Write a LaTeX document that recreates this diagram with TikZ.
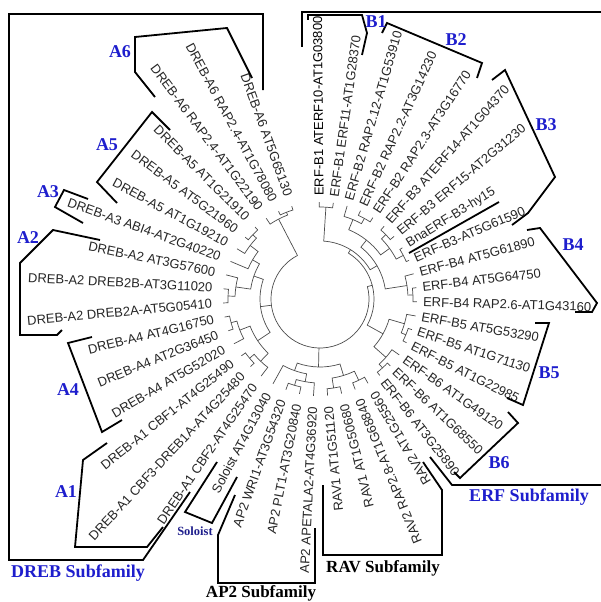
\documentclass[tikz,border=0pt]{standalone}
\usepackage{fontspec}
\setmainfont{Liberation Serif}
\newfontfamily\arialf{Liberation Sans}
\definecolor{grpblue}{RGB}{30,30,205}
\definecolor{solblue}{RGB}{30,30,140}
\newcommand\nd[5]{%
  \draw[tree] ({ang(#2)}:#3) -- ({ang(#2)}:#1) arc[start angle={ang(#2)}, end angle={ang(#4)}, radius=#1pt] -- ({ang(#4)}:#5);}
\newcommand\labR[3]{\node[lbl,anchor=west,rotate={ang(#2)}] (#1) at ({ang(#2)}:103) {#3};}
\newcommand\labB[3]{\node[lbl,anchor=east,rotate={ang(#2)+181}] (#1) at ({ang(#2)}:108) {#3};}
\newcommand\labL[3]{\node[lbl,anchor=east,rotate={ang(#2)+183}] (#1) at ({ang(#2)}:108) {#3};}
\begin{document}
\begin{tikzpicture}[x=1pt,y=-1pt,
  declare function={ang(\u)=90.5-8.38*(\u-1);},
  lbl/.style={font=\arialf\fontsize{13}{15}\selectfont, inner sep=0pt, text=black!85},
  tree/.style={line width=0.7pt, draw=black!70},
  bkt/.style={line width=1.8pt, draw=black, line join=miter},
  grp/.style={font=\bfseries\fontsize{18}{20}\selectfont, text=grpblue, inner sep=0pt},
  fam/.style={font=\bfseries\fontsize{17}{19}\selectfont, text=black, inner sep=0pt}]
\useasboundingbox (0,0) rectangle (601,602);
\fill[white] (0,0) rectangle (601,602);

\begin{scope}[shift={(320,299)}, x=1pt, y=1pt]
% ERF
\nd{92}{1}{97}{2}{97}
\nd{92}{4}{97}{5}{97}
\nd{86}{3}{97}{4.5}{92}
\nd{92}{6}{97}{7}{97}
\nd{94}{8}{97}{9}{97}
\nd{86}{6.5}{92}{8.5}{94}
\nd{75}{3.75}{86}{7.5}{86}
\nd{93}{11}{97}{12}{97}
\nd{88}{10}{97}{11.5}{93}
\nd{66}{5.625}{75}{10.75}{88}
\nd{58}{1.5}{92}{8.1875}{66}
\nd{93}{14}{97}{15}{97}
\nd{88}{13}{97}{14.5}{93}
\nd{93}{17}{97}{18}{97}
\nd{88}{16}{97}{17.5}{93}
\nd{72}{13.75}{88}{16.75}{88}
\nd{54}{4.84375}{58}{15.25}{72}
% RAV / AP2 / Soloist
\nd{90}{19}{97}{20}{97}
\nd{90}{21}{97}{22}{97}
\nd{80}{19.5}{90}{21.5}{90}
\nd{90}{24}{97}{25}{97}
\nd{84}{23}{97}{24.5}{90}
\nd{76}{23.75}{84}{26}{97}
\nd{68}{20.5}{80}{24.875}{76}
% DREB
\nd{92}{28}{97}{29}{97}
\nd{86}{27}{97}{28.5}{92}
\nd{92}{31}{97}{32}{97}
\nd{86}{30}{97}{31.5}{92}
\nd{75}{27.75}{86}{30.75}{86}
\nd{92}{33}{97}{34}{97}
\nd{85}{33.5}{92}{35}{97}
\nd{93}{38}{97}{39}{97}
\nd{88}{37}{97}{38.5}{93}
\nd{78}{36}{97}{37.75}{88}
\nd{70}{34.25}{85}{36.875}{78}
\nd{60}{29.25}{75}{35.5625}{70}
\nd{93}{41}{97}{42}{97}
\nd{90}{40}{97}{41.5}{93}
% root
\draw[tree] ({ang(10.046875)}:54) -- ({ang(10.046875)}:49) arc[start angle={ang(10.046875)}, end angle={ang(40.75)}, radius=49pt] -- ({ang(40.75)}:90);
\draw[tree] ({ang(22.6875)}:49) -- ({ang(22.6875)}:68);
\draw[tree] ({ang(32.40625)}:49) -- ({ang(32.40625)}:60);

% labels
\labR{l1}{1}{\textcolor{black}{ERF-B1 ATERF10-AT1G03800}}
\labR{l2}{2}{ERF-B1 ERF11-AT1G28370}
\labR{l3}{3}{ERF-B2 RAP2.12-AT1G53910}
\labR{l4}{4}{ERF-B2 RAP2.2-AT3G14230}
\labR{l5}{5}{ERF-B2 RAP2.3-AT3G16770}
\labR{l6}{6}{ERF-B3 ATERF14-AT1G04370}
\labR{l7}{7}{ERF-B3 ERF15-AT2G31230}
\labR{l8}{8}{BnaERF-B3-hy15}
\labR{l9}{9}{ERF-B3-AT5G61590}
\labR{l10}{10}{ERF-B4 AT5G61890}
\labR{l11}{11}{ERF-B4 AT5G64750}
\labR{l12}{12}{ERF-B4 RAP2.6-AT1G43160}
\labR{l13}{13}{ERF-B5 AT5G53290}
\labR{l14}{14}{ERF-B5 AT1G71130}
\labR{l15}{15}{ERF-B5 AT1G22985}
\labR{l16}{16}{ERF-B6 AT1G49120}
\labR{l17}{17}{ERF-B6 AT1G68550}
\labR{l18}{18}{ERF-B6 AT3G25890}
\labB{l19}{19}{RAV2 AT1G25560}
\labB{l20}{20}{RAV2 RAP2.8-AT1G68840}
\labB{l21}{21}{RAV1 AT1G50680}
\labB{l22}{22}{RAV1 AT1G51120}
\labB{l23}{23}{AP2 APETALA2-AT4G36920}
\labB{l24}{24}{AP2 PLT1-AT3G20840}
\labB{l25}{25}{AP2 WRI1-AT3G54320}
\labB{l26}{26}{Soloist AT4G13040}
\labL{l27}{27}{DREB-A1 CBF2-AT4G25470}
\labL{l28}{28}{DREB-A1 CBF3-DREB1A-AT4G25480}
\labL{l29}{29}{DREB-A1 CBF1-AT4G25490}
\labL{l30}{30}{DREB-A4 AT5G52020}
\labL{l31}{31}{DREB-A4 AT2G36450}
\labL{l32}{32}{DREB-A4 AT4G16750}
\labL{l33}{33}{DREB-A2 DREB2A-AT5G05410}
\labL{l34}{34}{DREB-A2 DREB2B-AT3G11020}
\labL{l35}{35}{DREB-A2 AT3G57600}
\labL{l36}{36}{DREB-A3 ABI4-AT2G40220}
\labL{l37}{37}{DREB-A5 AT1G19210}
\labL{l38}{38}{DREB-A5 AT5G21960}
\labL{l39}{39}{DREB-A5 AT1G21910}
\labL{l40}{40}{DREB-A6 RAP2.4-AT1G22190}
\labL{l41}{41}{DREB-A6 RAP2.4-AT1G78080}
\labL{l42}{42}{DREB-A6 AT5G65130}
\end{scope}

% brackets
\draw[bkt] (190,492) -- (143,560) -- (9,560) -- (9,14) -- (263,14) -- (263,90);
\draw[bkt] (155,97) -- (135,72) -- (135,37) -- (227,28) -- (252,78);
\draw[bkt] (170,130) -- (152,112) -- (97,182) -- (117,203);
\draw[bkt] (88,199) -- (64,190) -- (55,207) -- (83,223);
\draw[bkt] (100,240) -- (53,230) -- (20,263) -- (20,335) -- (57,335) -- (62,330);
\draw[bkt] (92,337) -- (68,343) -- (102,432) -- (122,420);
\draw[bkt] (107,443) -- (83,460) -- (75,547) -- (147,547) -- (163,527);
\draw[bkt] (217,462) -- (185,512) -- (212,523) -- (237,477);
\draw[bkt] (235,495) -- (218,535) -- (218,583) -- (315,583) -- (315,528);
\draw[bkt] (323,485) -- (323,555) -- (442,555) -- (442,490) -- (423,462);
\draw[bkt] (430,457) -- (452,485) -- (603,485);
\draw[bkt] (603,12) -- (302,12) -- (302,47);
\draw[bkt] (308,20) -- (308,15) -- (362,15) -- (367,33) -- (362,55);
\draw[bkt] (382,33) -- (387,23) -- (482,63) -- (477,78);
\draw[bkt] (492,80) -- (505,70) -- (555,177) -- (528,213) -- (512,225);
\draw[bkt] (409,253) -- (499,202);
\draw[bkt] (527,230) -- (540,228) -- (597,303) -- (592,312) -- (575,312);
\draw[bkt] (535,323) -- (549,323) -- (523,405) -- (507,398);
\draw[bkt] (508,412) -- (518,423) -- (460,478) -- (454,472);

% group labels
\node[grp] (tA6) at (120,52) {A6};
\node[grp] (tA5) at (107,145) {A5};
\node[grp] (tA3) at (48,192) {A3};
\node[grp] (tA2) at (28,238) {A2};
\node[grp] (tA4) at (68,390) {A4};
\node[grp] (tA1) at (66,492) {A1};
\node[grp] (tDREB) at (78,573) {DREB Subfamily};
\node[font=\bfseries\fontsize{12.5}{14}\selectfont, text=solblue, inner sep=0pt] (tSol) at (195,531) {Soloist};
\node[fam] (tAP2) at (261,593) {AP2 Subfamily};
\node[fam] (tRAV) at (383,568) {RAV Subfamily};
\node[grp] (tERF) at (529,497) {ERF Subfamily};
\node[grp] (tB1) at (376,22) {B1};
\node[grp] (tB2) at (456,40) {B2};
\node[grp] (tB3) at (546,125) {B3};
\node[grp] (tB4) at (573,245) {B4};
\node[grp] (tB5) at (549,373) {B5};
\node[grp] (tB6) at (499,463) {B6};
\end{tikzpicture}
\end{document}
